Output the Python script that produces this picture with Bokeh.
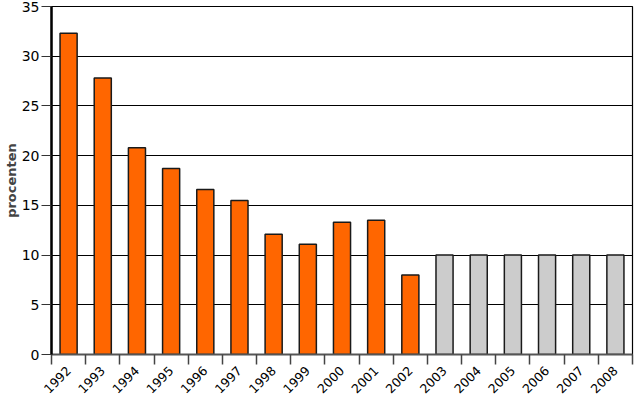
import math
from bokeh.plotting import figure
from bokeh.models import ColumnDataSource, FixedTicker, Range1d
from bokeh.embed import file_html
from bokeh.resources import INLINE

years = ["1992", "1993", "1994", "1995", "1996", "1997", "1998", "1999", "2000",
         "2001", "2002", "2003", "2004", "2005", "2006", "2007", "2008"]
values = [32.3, 27.8, 20.8, 18.7, 16.6, 15.5, 12.1, 11.1, 13.3, 13.5, 8.0,
          10.0, 10.0, 10.0, 10.0, 10.0, 10.0]
kinds = ["actual"] * 11 + ["target"] * 6
y_ticks = [0, 5, 10, 15, 20, 25, 30, 35]

color_map = {"actual": "#FF6600", "target": "#CCCCCC"}
xs = [i + 0.5 for i in range(len(years))]
source = ColumnDataSource(dict(x=xs, top=values, color=[color_map[k] for k in kinds]))

p = figure(width=634, height=400, output_backend="svg", toolbar_location=None,
           x_range=Range1d(0, len(years)), y_range=Range1d(0, 35),
           min_border_left=50, min_border_right=2, min_border_top=6, min_border_bottom=44)

p.vbar(x="x", top="top", width=0.5, source=source, fill_color="color",
       line_color="#1a1a1a", line_width=1.5)

p.outline_line_color = "black"
p.outline_line_width = 1.2
p.xgrid.grid_line_color = None
p.ygrid.grid_line_color = "black"
p.ygrid.grid_line_width = 1
p.ygrid.ticker = FixedTicker(ticks=y_ticks)

font = "DejaVu Sans"
p.yaxis.ticker = FixedTicker(ticks=y_ticks)
p.yaxis.axis_label = "procenten"
p.yaxis.axis_label_text_font = font
p.yaxis.axis_label_text_font_style = "bold"
p.yaxis.axis_label_text_font_size = "13px"
p.yaxis.axis_label_standoff = 0
p.yaxis.major_label_text_font = font
p.yaxis.major_label_text_font_size = "14px"
p.yaxis.major_label_text_color = "black"
p.yaxis.major_tick_out = 10
p.yaxis.major_tick_in = 0
p.yaxis.major_tick_line_color = "#333333"
p.yaxis.axis_line_width = 2.5
p.yaxis.axis_line_color = "black"
p.yaxis.minor_tick_line_color = None
p.yaxis.major_label_standoff = 2

p.xaxis.ticker = FixedTicker(ticks=xs, minor_ticks=list(range(len(years) + 1)))
p.xaxis.major_label_overrides = {x: y for x, y in zip(xs, years)}
p.xaxis.major_label_orientation = math.pi / 4
p.xaxis.major_label_text_font = font
p.xaxis.major_label_text_font_size = "12.5px"
p.xaxis.major_label_text_color = "black"
p.xaxis.major_tick_line_color = None
p.xaxis.major_tick_out = 0
p.xaxis.major_tick_in = 0
p.xaxis.minor_tick_out = 10
p.xaxis.minor_tick_in = 0
p.xaxis.minor_tick_line_color = "#444444"
p.xaxis.minor_tick_line_width = 1.5
p.xaxis.axis_line_color = "#555555"
p.xaxis.axis_line_width = 2
p.xaxis.major_label_standoff = 4

open("out.html", "w").write(file_html(p, INLINE))
